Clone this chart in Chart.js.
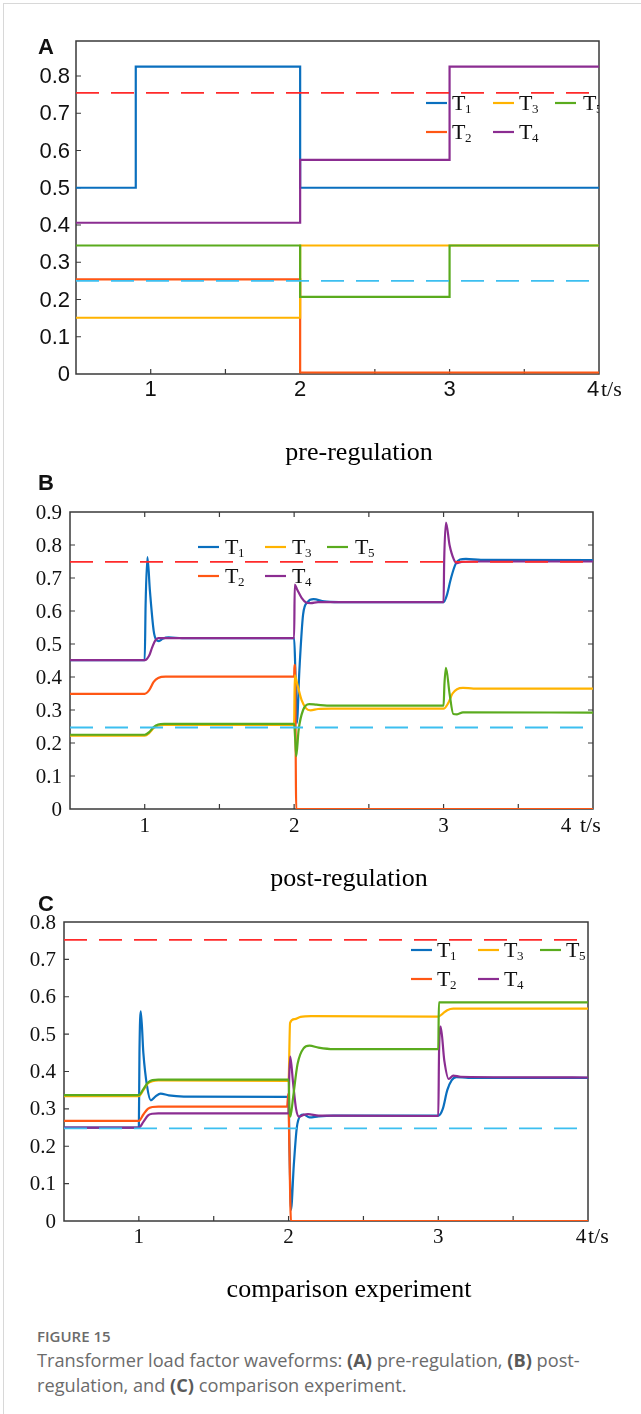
<!DOCTYPE html>
<html>
<head>
<meta charset="utf-8">
<script src="https://cdn.jsdelivr.net/npm/chart.js@4.4.1/dist/chart.umd.min.js"></script>
<style>
  body { margin: 0; background: #fff; width: 641px; height: 1414px; position: relative; overflow: hidden; }
  canvas { position: absolute; left: 0; }
  .frame-l { position: absolute; left: 3px; top: 3px; width: 1px; height: 1411px; background: #d8d8d8; }
  .frame-t { position: absolute; left: 3px; top: 3px; width: 638px; height: 1px; background: #d8d8d8; }
  .tag { position: absolute; left: 38px; font: bold 22px "Liberation Sans", Arial, sans-serif; color: #111; line-height: 24px; }
  .sub { position: absolute; width: 400px; text-align: center; font: 26px "Liberation Serif", "Times New Roman", serif; color: #000; line-height: 30px; }
  .cap { position: absolute; left: 37px; font-family: "Open Sans", sans-serif; color: #6b6b6b; }
  .cap b { font-weight: 700; color: #5a5a5a; }
</style>
</head>
<body>
<div class="frame-l"></div>
<div class="frame-t"></div>

<canvas id="chartA" width="641" height="420" style="top:0px"></canvas>
<canvas id="chartB" width="641" height="420" style="top:440px"></canvas>
<canvas id="chartC" width="641" height="420" style="top:860px"></canvas>

<div class="tag" style="top:35px">A</div>
<div class="tag" style="top:471px">B</div>
<div class="tag" style="top:892px">C</div>

<div class="sub" style="left:159px;top:437px">pre-regulation</div>
<div class="sub" style="left:149px;top:863px">post-regulation</div>
<div class="sub" style="left:149px;top:1274px">comparison experiment</div>

<div class="cap" style="top:1326px;font-size:15px;font-weight:600;line-height:20px">FIGURE 15</div>
<div class="cap" style="top:1348px;font-size:18.2px;line-height:25px;width:600px;white-space:nowrap">
  Transformer load factor waveforms: <b>(A)</b> pre-regulation, <b>(B)</b> post-<br>regulation, and <b>(C)</b> comparison experiment.
</div>

<script>
// ===============================
// Data: [t (s), load factor] pairs
// ===============================

const names = ["T1", "T2", "T3", "T4", "T5"];

// (A) pre-regulation — stepwise values
const aT1 = [[0.5, 0.5], [0.9, 0.825], [2, 0.5], [4, 0.5]];
const aT2 = [[0.5, 0.254], [2, 0.004], [4, 0.004]];
const aT3 = [[0.5, 0.151], [2, 0.345], [4, 0.345]];
const aT4 = [[0.5, 0.406], [2, 0.575], [3, 0.825], [4, 0.825]];
const aT5 = [[0.5, 0.345], [2, 0.207], [3, 0.345], [4, 0.345]];
const aLimits = [0.755, 0.25];

// (B) post-regulation
const bT1 = [[0.5, 0.451], [1.0, 0.451], [1.006, 0.62], [1.018, 0.763], [1.035, 0.66], [1.06, 0.54], [1.078, 0.512],
  [1.095, 0.509], [1.12, 0.516], [1.16, 0.52], [1.25, 0.518], [2.0, 0.518], [2.008, 0.42], [2.018, 0.26], [2.035, 0.42],
  [2.06, 0.59], [2.09, 0.627], [2.13, 0.636], [2.2, 0.629], [2.3, 0.627], [3.0, 0.627], [3.02, 0.645], [3.05, 0.7],
  [3.08, 0.742], [3.11, 0.756], [3.15, 0.758], [3.25, 0.755], [4.0, 0.754]];
const bT2 = [[0.5, 0.349], [1.0, 0.349], [1.03, 0.36], [1.06, 0.385], [1.09, 0.397], [1.14, 0.401], [2.0, 0.401],
  [2.002, 0.437], [2.006, 0.43], [2.014, 0.0], [4.0, 0.0]];
const bT3 = [[0.5, 0.222], [1.0, 0.222], [1.03, 0.23], [1.06, 0.245], [1.09, 0.253], [1.13, 0.255], [2.0, 0.255],
  [2.004, 0.405], [2.02, 0.38], [2.05, 0.33], [2.08, 0.305], [2.11, 0.299], [2.16, 0.303], [2.25, 0.304], [3.0, 0.304],
  [3.03, 0.32], [3.06, 0.35], [3.09, 0.363], [3.13, 0.367], [3.2, 0.365], [4.0, 0.365]];
const bT4 = [[0.5, 0.451], [1.0, 0.451], [1.03, 0.465], [1.05, 0.49], [1.07, 0.51], [1.09, 0.518], [2.0, 0.518],
  [2.004, 0.68], [2.02, 0.665], [2.05, 0.64], [2.08, 0.626], [2.11, 0.624], [2.16, 0.627], [3.0, 0.627], [3.004, 0.75],
  [3.016, 0.868], [3.04, 0.8], [3.07, 0.755], [3.09, 0.745], [3.12, 0.749], [3.2, 0.75], [4.0, 0.75]];
const bT5 = [[0.5, 0.225], [1.0, 0.225], [1.03, 0.233], [1.06, 0.248], [1.09, 0.256], [1.13, 0.258], [2.0, 0.258],
  [2.006, 0.22], [2.014, 0.16], [2.03, 0.24], [2.06, 0.3], [2.1, 0.318], [2.15, 0.316], [2.25, 0.313], [3.0, 0.313],
  [3.006, 0.38], [3.016, 0.428], [3.04, 0.35], [3.065, 0.288], [3.09, 0.287], [3.13, 0.293], [4.0, 0.292]];
const bLimits = [0.749, 0.247];

// (C) comparison experiment
const cT1 = [[0.5, 0.25], [1.0, 0.25], [1.004, 0.45], [1.013, 0.561], [1.03, 0.45], [1.055, 0.36], [1.08, 0.323],
  [1.11, 0.333], [1.145, 0.341], [1.2, 0.336], [1.3, 0.333], [2.0, 0.332], [2.006, 0.2], [2.016, 0.03], [2.035, 0.15],
  [2.055, 0.25], [2.08, 0.282], [2.1, 0.285], [2.14, 0.277], [2.2, 0.28], [2.3, 0.282], [3.0, 0.282], [3.03, 0.3],
  [3.06, 0.35], [3.09, 0.377], [3.12, 0.385], [3.2, 0.383], [4.0, 0.383]];
const cT2 = [[0.5, 0.268], [1.0, 0.268], [1.03, 0.285], [1.06, 0.3], [1.09, 0.305], [1.13, 0.306], [1.99, 0.306],
  [1.998, 0.34], [2.005, 0.2], [2.016, 0.0], [4.0, 0.0]];
const cT3 = [[0.5, 0.334], [1.0, 0.334], [1.03, 0.35], [1.06, 0.368], [1.09, 0.374], [1.13, 0.376], [2.0, 0.375],
  [2.01, 0.53], [2.04, 0.54], [2.08, 0.546], [2.15, 0.548], [3.0, 0.547], [3.03, 0.555], [3.06, 0.564], [3.1, 0.568],
  [4.0, 0.568]];
const cT4 = [[0.5, 0.25], [1.0, 0.25], [1.03, 0.265], [1.06, 0.282], [1.09, 0.287], [1.13, 0.288], [2.0, 0.288],
  [2.004, 0.38], [2.011, 0.44], [2.03, 0.37], [2.05, 0.3], [2.07, 0.279], [2.1, 0.284], [2.13, 0.286], [2.2, 0.282],
  [3.0, 0.281], [3.005, 0.45], [3.016, 0.52], [3.04, 0.43], [3.07, 0.38], [3.1, 0.389], [3.15, 0.386], [4.0, 0.384]];
const cT5 = [[0.5, 0.337], [1.0, 0.337], [1.03, 0.353], [1.06, 0.37], [1.09, 0.377], [1.13, 0.378], [2.0, 0.378],
  [2.006, 0.3], [2.012, 0.279], [2.03, 0.33], [2.06, 0.42], [2.1, 0.462], [2.14, 0.469], [2.2, 0.464], [2.3, 0.46],
  [3.0, 0.46], [3.004, 0.585], [4.0, 0.585]];
const cLimits = [0.752, 0.248];

// ===============================
// Styling
// ===============================

const colors = ["#0a6fbe", "#ff5714", "#ffb300", "#8b2d91", "#5aab1e"];
const limitColors = ["#ff2a2a", "#3cbff0"];
const AXIS = "#3a3a3a";
const SERIF = "'Liberation Serif'";
const SANS = "'Liberation Sans'";

// draws the box, inward ticks, tick labels, legend with subscripts and the "t/s" unit
const decoPlugin = {
    id: "deco",
    beforeDatasetsDraw(chart, args, o) {
        const { ctx, chartArea: a, scales: { x, y } } = chart;
        ctx.save();
        ctx.strokeStyle = AXIS;
        ctx.lineWidth = 1.5;
        ctx.strokeRect(a.left, a.top, a.right - a.left, a.bottom - a.top);
        ctx.lineWidth = 1.2;
        ctx.beginPath();
        x.ticks.forEach(t => {
            if (t.value <= x.min || t.value >= x.max) return;
            const px = x.getPixelForValue(t.value);
            ctx.moveTo(px, a.bottom); ctx.lineTo(px, a.bottom - 5);
            if (o.allSides) { ctx.moveTo(px, a.top); ctx.lineTo(px, a.top + 5); }
        });
        y.ticks.forEach(t => {
            if (t.value <= y.min + 1e-6 || t.value >= y.max - 1e-6) return;
            const py = y.getPixelForValue(t.value);
            ctx.moveTo(a.left, py); ctx.lineTo(a.left + 5, py);
            if (o.allSides) { ctx.moveTo(a.right, py); ctx.lineTo(a.right - 5, py); }
        });
        ctx.stroke();

        // tick labels
        ctx.fillStyle = "#111";
        ctx.font = o.tickFont;
        ctx.textBaseline = "middle";
        ctx.textAlign = "right";
        y.ticks.forEach(t => {
            if (t.value > y.max + 1e-6) return;
            const label = t.value === 0 ? "0" : t.value.toFixed(1);
            ctx.fillText(label, a.left - o.yPad, y.getPixelForValue(t.value) + 1);
        });
        ctx.textAlign = "center";
        x.ticks.forEach(t => {
            if (t.value % 1 !== 0 || t.value >= 4) return;
            ctx.fillText(String(t.value), x.getPixelForValue(t.value), o.labelY);
        });
        const p4 = x.getPixelForValue(4);
        ctx.fillText("4", p4 + o.fourDx, o.labelY);
        ctx.textAlign = "left";
        ctx.font = "22px " + SERIF;
        ctx.fillText("t/s", p4 + o.unitDx, o.labelY);
        ctx.restore();
    },
    afterDatasetsDraw(chart, args, o) {
        const { ctx, chartArea: a } = chart;
        ctx.save();
        ctx.beginPath();
        ctx.rect(a.left, a.top, a.right - a.left, a.bottom - a.top);
        ctx.clip();
        const slots = [[0, 0], [1, 0], [0, 1], [1, 1], [0, 2]]; // T1..T5 -> [row, col]
        names.forEach((n, i) => {
            const [r, c] = slots[i];
            const ly = o.legendRows[r];
            const [lx, tx] = o.legendCols[c];
            ctx.strokeStyle = colors[i];
            ctx.lineWidth = 2.2;
            ctx.beginPath();
            ctx.moveTo(lx, ly); ctx.lineTo(lx + 21, ly);
            ctx.stroke();
            ctx.fillStyle = "#111";
            ctx.textBaseline = "alphabetic";
            ctx.textAlign = "left";
            ctx.font = "22px " + SERIF;
            ctx.fillText("T", tx, ly + 7);
            ctx.font = "13px " + SERIF;
            ctx.fillText(n.slice(1), tx + 13, ly + 10);
        });
        ctx.restore();
    }
};

function toXY(pairs) {
    return pairs.map(p => ({ x: p[0], y: p[1] }));
}

function makePanel(id, series, limits, p) {
    const datasets = series.map((s, i) => ({
        label: names[i],
        data: toXY(s),
        borderColor: colors[i],
        borderWidth: 2.2,
        pointRadius: 0,
        stepped: p.stepped ? "before" : false,
        cubicInterpolationMode: p.stepped ? "default" : "monotone",
        order: 10 - i
    }));
    limits.forEach((v, i) => datasets.push({
        label: "limit" + i,
        data: [{ x: 0.5, y: v }, { x: 4, y: v }],
        borderColor: limitColors[i],
        borderWidth: 1.8,
        borderDash: [23, 12],
        pointRadius: 0,
        order: 1
    }));

    return new Chart(document.getElementById(id), {
        type: "line",
        data: { datasets },
        plugins: [decoPlugin],
        options: {
            responsive: false,
            animation: false,
            layout: { padding: { left: 0, right: 641 - p.right, top: p.top, bottom: 0 } },
            plugins: {
                legend: { display: false },
                tooltip: { enabled: false },
                deco: p.deco
            },
            scales: {
                x: {
                    type: "linear",
                    min: 0.5,
                    max: 4,
                    afterFit: s => { s.height = 420 - p.bottom; },
                    grid: { display: false },
                    border: { display: false },
                    ticks: { display: false, stepSize: 0.5, autoSkip: false, includeBounds: false }
                },
                y: {
                    min: 0,
                    max: p.ymax,
                    afterFit: s => { s.width = p.left; },
                    grid: { display: false },
                    border: { display: false },
                    ticks: { display: false, stepSize: 0.1, includeBounds: false }
                }
            }
        }
    });
}

// ===============================
// (A) pre-regulation
// ===============================
makePanel("chartA", [aT1, aT2, aT3, aT4, aT5], aLimits, {
    stepped: true, left: 76, right: 599, top: 41, bottom: 374, ymax: 0.894,
    deco: { allSides: false, legendRows: [103, 132], legendCols: [[426, 452], [493, 519], [555, 583]],
            tickFont: "22px " + SANS, yPad: 6, labelY: 390, fourDx: -6, unitDx: 2 }
});

// ===============================
// (B) post-regulation
// ===============================
makePanel("chartB", [bT1, bT2, bT3, bT4, bT5], bLimits, {
    stepped: false, left: 70, right: 593, top: 72, bottom: 369, ymax: 0.9,
    deco: { allSides: true, legendRows: [107, 136], legendCols: [[198, 225], [265, 292], [327, 355]],
            tickFont: "21px " + SERIF, yPad: 8, labelY: 386, fourDx: -27, unitDx: -13 }
});

// ===============================
// (C) comparison experiment
// ===============================
makePanel("chartC", [cT1, cT2, cT3, cT4, cT5], cLimits, {
    stepped: false, left: 64, right: 588, top: 62, bottom: 361, ymax: 0.8,
    deco: { allSides: false, legendRows: [90, 119], legendCols: [[411, 437], [478, 504], [540, 566]],
            tickFont: "21px " + SERIF, yPad: 8, labelY: 377, fourDx: -7, unitDx: 0 }
});
</script>
</body>
</html>
